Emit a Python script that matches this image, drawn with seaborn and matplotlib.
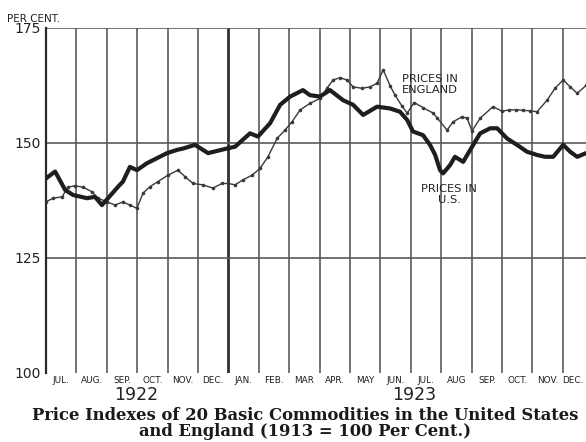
import matplotlib
matplotlib.use("Agg")
import matplotlib.pyplot as plt
import matplotlib.transforms as mtrans
import seaborn as sns
import pandas as pd

# ---- data (months since 1 July 1922, index 1913 = 100) ----
us_t = [0.00, 0.30, 0.63, 0.89, 1.35, 1.61, 1.84, 2.04, 2.37, 2.53,
        2.76, 2.99, 3.32, 3.65, 3.98, 4.31, 4.51, 4.90, 5.33, 5.95,
        6.22, 6.71, 6.97, 7.37, 7.70, 8.03, 8.45, 8.68, 9.01, 9.34,
        9.77, 10.10, 10.43, 10.89, 11.32, 11.64, 11.88, 12.07, 12.40, 12.63,
        12.80, 12.96, 13.06, 13.29, 13.45, 13.72, 14.05, 14.28, 14.61, 14.84,
        15.16, 15.49, 15.82, 16.15, 16.41, 16.68, 17.01, 17.24, 17.47, 17.76]
us_v = [142.3, 143.8, 139.8, 138.7, 138.0, 138.3, 136.5, 138.0, 140.5, 141.6,
        144.8, 144.1, 145.6, 146.7, 147.8, 148.5, 148.8, 149.6, 147.8, 148.8,
        149.2, 152.1, 151.4, 154.3, 158.3, 160.1, 161.5, 160.4, 160.1, 161.5,
        159.3, 158.3, 156.1, 157.9, 157.5, 156.8, 155.0, 152.5, 151.7, 149.6,
        147.4, 144.1, 143.4, 145.2, 147.0, 145.9, 149.6, 152.1, 153.2, 153.2,
        151.0, 149.6, 148.1, 147.4, 147.0, 147.0, 149.6, 148.1, 147.0, 147.8]

en_t = [0.00, 0.23, 0.53, 0.72, 0.95, 1.22, 1.51, 1.71, 2.01, 2.27,
        2.53, 2.76, 2.99, 3.19, 3.42, 3.68, 4.01, 4.34, 4.57, 4.84,
        5.16, 5.49, 5.79, 5.99, 6.22, 6.48, 6.78, 7.04, 7.30, 7.60,
        7.86, 8.09, 8.36, 8.68, 9.01, 9.24, 9.44, 9.67, 9.90, 10.10,
        10.39, 10.66, 10.89, 11.09, 11.32, 11.48, 11.71, 11.88, 12.11, 12.40,
        12.73, 12.86, 13.19, 13.39, 13.68, 13.85, 14.01, 14.28, 14.70, 15.00,
        15.23, 15.46, 15.69, 15.92, 16.15, 16.48, 16.74, 17.01, 17.24, 17.47,
        17.76]
en_v = [137.2, 138.0, 138.3, 140.4, 140.7, 140.4, 139.4, 138.0, 137.2, 136.5,
        137.2, 136.5, 135.8, 139.1, 140.5, 141.6, 143.0, 144.1, 142.7, 141.2,
        140.9, 140.2, 141.2, 141.2, 140.9, 142.0, 143.0, 144.5, 147.0, 151.0,
        152.8, 154.6, 157.2, 158.6, 159.7, 161.9, 163.7, 164.2, 163.7, 162.2,
        161.9, 162.2, 163.0, 165.9, 162.4, 160.4, 158.0, 156.5, 158.8, 157.7,
        156.5, 155.5, 152.8, 154.6, 155.7, 155.4, 152.6, 155.4, 157.9, 156.9,
        157.2, 157.2, 157.1, 157.0, 156.8, 159.3, 161.9, 163.7, 162.2, 160.8,
        162.5]

month_labels = ["JUL.", "AUG.", "SEP.", "OCT.", "NOV.", "DEC.", "JAN.", "FEB.", "MAR",
                "APR.", "MAY", "JUN.", "JUL.", "AUG", "SEP.", "OCT.", "NOV.", "DEC."]
years = ["1922", "1923"]
year_span = [(0, 6), (6, 18)]
y_ticks = [100, 125, 150, 175]

us_df = pd.DataFrame({"t": us_t, "v": us_v})
en_df = pd.DataFrame({"t": en_t, "v": en_v})

sns.set_style("white")
plt.rcParams['font.family'] = ['DejaVu Sans']

W, H = 586, 442
fig = plt.figure(figsize=(W / 100, H / 100), dpi=100)
fig.patch.set_facecolor("white")
ax = fig.add_axes([46 / W, 1 - 373 / H, 1 - 46 / W, (373 - 28) / H])

grid_c = "#5a5a5a"
# month grid lines
for m in range(1, 18):
    ax.axvline(m, color="#303030" if m == 6 else grid_c,
               lw=2.0 if m == 6 else 1.2, zorder=1)
for yv in [125, 150, 175]:
    ax.axhline(yv, color=grid_c, lw=1.2, zorder=1)

sns.lineplot(data=en_df, x="t", y="v", ax=ax, color="#3a3a3a", lw=1.0,
             marker="o", markersize=2.6, markeredgewidth=0, sort=False,
             estimator=None, zorder=3)
sns.lineplot(data=us_df, x="t", y="v", ax=ax, color="#1e1e1e", lw=3.0,
             sort=False, estimator=None, zorder=4)

ax.set_xlim(0, 17.76)
ax.set_ylim(100, 175)
ax.set_xlabel("")
ax.set_ylabel("")
for s in ["top", "right", "bottom"]:
    ax.spines[s].set_visible(False)
ax.spines["left"].set_color("#2a2a2a")
ax.spines["left"].set_linewidth(1.6)

ax.set_yticks(y_ticks)
ax.set_yticklabels([str(v) for v in y_ticks], fontsize=10, color="#222222")
ax.tick_params(axis="y", length=0, pad=4)

xt = [m + 0.5 for m in range(18)]
xt[-1] = 17.33
ax.set_xticks(xt)
ax.set_xticklabels(month_labels, fontsize=6.4, color="#1e1e1e", fontweight="medium")
ax.tick_params(axis="x", length=0, pad=2.5)

trans = mtrans.blended_transform_factory(ax.transData, fig.transFigure)
for yr, (a, b) in zip(years, year_span):
    ax.text((a + b) / 2 + (0.1 if yr == "1923" else -0.05), 1 - 395 / H, yr,
            transform=trans, ha="center", va="center", fontsize=12.5,
            color="#222222", clip_on=False)

fig.text(7 / W, 1 - 18.5 / H, "PER CENT.", ha="left", va="center",
         fontsize=7.5, color="#222222")

ax.text(12.63, 162.7, "PRICES IN\nENGLAND", ha="center", va="center",
        fontsize=8.2, color="#222222", linespacing=1.2, zorder=5)
ax.text(13.26, 138.8, "PRICES IN\nU.S.", ha="center", va="center",
        fontsize=8.2, color="#222222", linespacing=1.2, zorder=5)

fig.text(305 / W, 1 - 416 / H,
         "Price Indexes of 20 Basic Commodities in the United States",
         ha="center", va="center", fontsize=11.8, fontweight="bold",
         family="DejaVu Serif", color="#1a1a1a")
fig.text(305 / W, 1 - 431.5 / H, "and England (1913 = 100 Per Cent.)",
         ha="center", va="center", fontsize=11.8, fontweight="bold",
         family="DejaVu Serif", color="#1a1a1a")

fig.savefig("out.png", dpi=100, facecolor="white")
